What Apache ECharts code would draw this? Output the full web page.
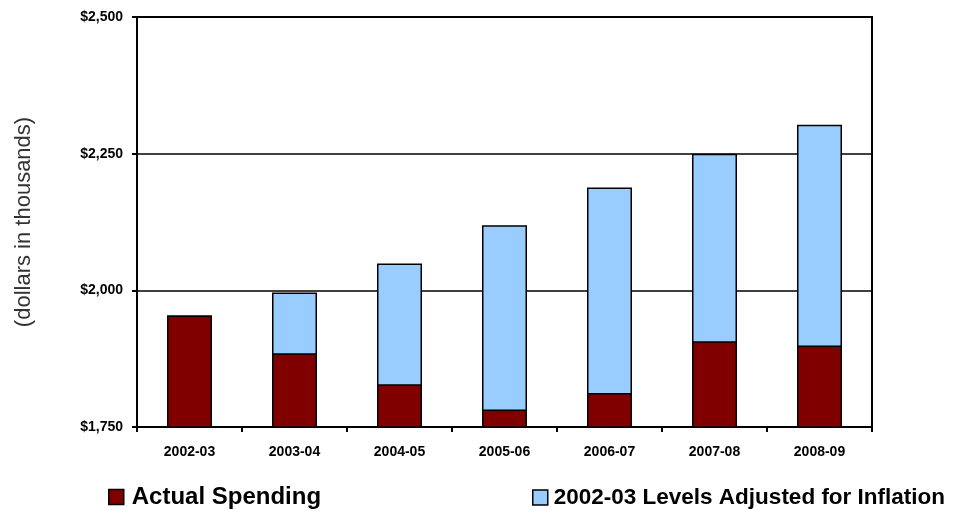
<!DOCTYPE html>
<html>
<head>
<meta charset="utf-8">
<script src="https://cdn.jsdelivr.net/npm/echarts@6/dist/echarts.min.js"></script>
<style>html,body{margin:0;padding:0;background:#fff}#c{width:958px;height:511px}</style>
</head>
<body>
<div id="c"></div>
<script>
var categories = ['2002-03','2003-04','2004-05','2005-06','2006-07','2007-08','2008-09'];
var actualSpending = [1954, 1885, 1828, 1782, 1812, 1907, 1899];
var inflationAdjusted = [1954, 1996, 2049, 2119, 2188, 2250, 2303];
var yTicks = [1750, 2000, 2250, 2500];

var chart = echarts.init(document.getElementById('c'));
var font = 'Liberation Sans, Arial, sans-serif';
chart.setOption({
  animation: false,
  grid: {left: 137, right: 86, top: 17, bottom: 84, show: true, borderColor: '#000', borderWidth: 2, backgroundColor: 'transparent'},
  legend: [
    {data: [{name: 'Actual Spending', icon: 'rect'}], left: 103, top: 480, itemWidth: 15, itemHeight: 15,
     itemStyle: {borderColor: '#000', borderWidth: 1.5},
     textStyle: {fontFamily: font, fontWeight: 'bold', fontSize: 24, color: '#000', padding: [0, 0, 0, 3]}},
    {data: [{name: '2002-03 Levels Adjusted for Inflation', icon: 'rect'}], left: 527, top: 481, itemWidth: 15, itemHeight: 15,
     itemStyle: {borderColor: '#000', borderWidth: 1.5},
     textStyle: {fontFamily: font, fontWeight: 'bold', fontSize: 22.5, color: '#000', padding: [0, 0, 0, 1]}}
  ],
  xAxis: {
    type: 'category', data: categories, boundaryGap: true,
    axisLine: {lineStyle: {color: '#000', width: 2}},
    axisTick: {show: true, length: 5, lineStyle: {color: '#000', width: 2}},
    axisLabel: {fontFamily: font, fontWeight: 'bold', fontSize: 14, color: '#000', margin: 18}
  },
  yAxis: {
    type: 'value', min: yTicks[0], max: yTicks[yTicks.length - 1], interval: 250,
    name: '(dollars in thousands)', nameLocation: 'middle', nameGap: 102, nameRotate: 90,
    nameTextStyle: {fontFamily: font, fontSize: 22, color: '#333'},
    axisLine: {show: true, lineStyle: {color: '#000', width: 2}},
    axisTick: {show: true, length: 5, lineStyle: {color: '#000', width: 2}},
    splitLine: {show: true, lineStyle: {color: '#000', width: 1.5}},
    axisLabel: {fontFamily: font, fontWeight: 'bold', fontSize: 14, color: '#000', margin: 14,
      formatter: function (v) { return '$' + v.toLocaleString('en-US'); }}
  },
  series: [
    {name: '2002-03 Levels Adjusted for Inflation', type: 'bar', data: inflationAdjusted, barWidth: 45, barGap: '-100%', z: 2,
     itemStyle: {color: '#99CCFF', borderColor: '#000', borderWidth: 1.5}},
    {name: 'Actual Spending', type: 'bar', data: actualSpending, barWidth: 45, barGap: '-100%', z: 3,
     itemStyle: {color: '#800000', borderColor: '#000', borderWidth: 1.5}}
  ]
});
</script>
</body>
</html>
